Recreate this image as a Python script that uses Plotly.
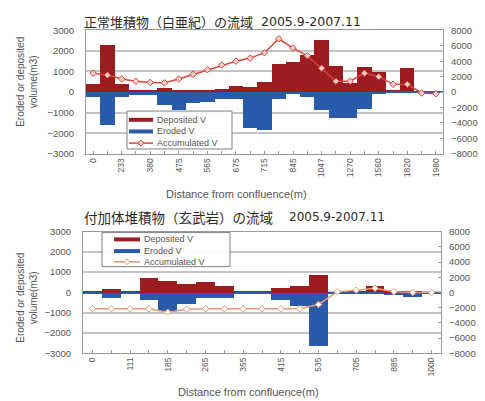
import plotly.graph_objects as go

# ---------------- data ----------------
top_title = "正常堆積物（白亜紀）の流域"
bot_title = "付加体堆積物（玄武岩）の流域"
period = "2005.9-2007.11"
series_names = ["Deposited V", "Eroded V", "Accumulated V"]

top_sections = list(range(25))
top_tick_pos = [0, 2, 4, 6, 8, 10, 12, 14, 16, 18, 20, 22, 24]
top_tick_labels = ["0", "233", "380", "475", "565", "675", "715", "845",
                   "1047", "1270", "1560", "1820", "1980"]
top_deposited = [375, 2250, 375, 50, 50, 190, 60, 50, 50, 140, 300, 250, 460,
                 1330, 1460, 1800, 2500, 1240, 420, 1190, 950, 100, 1150, 30, 20]
top_eroded = [-250, -1600, -250, -150, -150, -640, -900, -560, -480, -330, -330,
              -1780, -1850, -370, -100, -250, -900, -1290, -1290, -830, -100,
              -80, -80, -30, -20]
top_accum = [2450, 2200, 1700, 1400, 1250, 1200, 1700, 2300, 2900, 3500, 4000,
             4400, 5100, 6900, 5700, 4700, 3100, 1400, 1400, 2450, 2000, 1000,
             1000, -120, -220]

bot_sections = list(range(19))
bot_tick_pos = [0, 2, 4, 6, 8, 10, 12, 14, 16, 18]
bot_tick_labels = ["0", "111", "185", "265", "355", "415", "535", "705",
                   "885", "1000"]
bot_deposited = [60, 200, 50, 730, 600, 440, 520, 330, 50, 60, 240, 330, 870,
                 30, 40, 330, 80, 80, 30]
bot_eroded = [-60, -240, -50, -350, -900, -550, -270, -270, -60, -60, -350,
              -670, -2650, -30, -40, -50, -110, -190, -30]
bot_accum = [-2150, -2150, -2150, -2150, -2600, -2200, -2150, -2150, -2150,
             -2150, -2150, -2150, -1580, 100, 300, 550, 100, 0, 0]

left_ticks = [-3000, -2000, -1000, 0, 1000, 2000, 3000]
right_ticks = [-8000, -6000, -4000, -2000, 0, 2000, 4000, 6000, 8000]

# ---------------- style ----------------
RED = "#9c1c20"
BLUE = "#2a5bab"
ACC_TOP = "#d8453c"
ACC_BOT = "#e69a72"
GRID = "#c4c4c4"
FRAME = "#9a9a9a"
TXT = "#555555"
FONT = "Liberation Sans, Arial, sans-serif"
JFONT = "Noto Sans CJK JP"
W, H = 485, 401


def px_x(v):
    return v / W


def px_y(v):
    return 1 - v / H


fig = go.Figure()

# top chart
fig.add_trace(go.Bar(x=top_sections, y=top_deposited, marker_color=RED,
                     marker_line_width=0, xaxis="x", yaxis="y",
                     name=series_names[0]))
fig.add_trace(go.Bar(x=top_sections, y=top_eroded, marker_color=BLUE,
                     marker_line_width=0, xaxis="x", yaxis="y",
                     name=series_names[1]))
fig.add_trace(go.Scatter(x=top_sections, y=top_accum, mode="lines+markers",
                         line=dict(color=ACC_TOP, width=1.5),
                         marker=dict(symbol="diamond", size=5, color="#f6d0cc",
                                     line=dict(color=ACC_TOP, width=1)),
                         xaxis="x", yaxis="y2", name=series_names[2]))

# bottom chart
fig.add_trace(go.Bar(x=bot_sections, y=bot_deposited, marker_color=RED,
                     marker_line_width=0, xaxis="x2", yaxis="y3",
                     name=series_names[0]))
fig.add_trace(go.Bar(x=bot_sections, y=bot_eroded, marker_color=BLUE,
                     marker_line_width=0, xaxis="x2", yaxis="y3",
                     name=series_names[1]))
fig.add_trace(go.Scatter(x=bot_sections, y=bot_accum, mode="lines+markers",
                         line=dict(color=ACC_BOT, width=1.5),
                         marker=dict(symbol="diamond", size=5, color="#ffffff",
                                     line=dict(color=ACC_BOT, width=1)),
                         xaxis="x2", yaxis="y4", name=series_names[2]))

tickfont = dict(family=FONT, size=9.5, color=TXT)


def xax(domain, anchor, pos, labels, n):
    return dict(domain=domain, anchor=anchor, range=[-0.5, n - 0.5],
                tickmode="array", tickvals=pos, ticktext=labels,
                tickangle=-90, tickfont=dict(family=FONT, size=8.5, color=TXT),
                showgrid=False, zeroline=False, showline=True, linecolor=FRAME,
                linewidth=1, mirror=True, ticks="inside", ticklen=3,
                tickcolor=FRAME, minor=dict(dtick=1, tick0=0, ticks="inside",
                                            ticklen=3, tickcolor=FRAME),
                fixedrange=True)


def yl(domain, anchor):
    return dict(domain=domain, anchor=anchor, range=[-3000, 3000],
                tickmode="array", tickvals=left_ticks,
                tickfont=tickfont, showgrid=True, gridcolor=GRID, gridwidth=2,
                zeroline=False, showline=True, linecolor=FRAME, linewidth=1,
                mirror=True, ticks="", ticklabelstandoff=9)


def yr(overlay, anchor):
    return dict(overlaying=overlay, anchor=anchor, side="right",
                range=[-8000, 8000], tickmode="array", tickvals=right_ticks,
                tickfont=tickfont, showgrid=False, zeroline=False,
                showline=False, ticks="inside", ticklen=3, tickcolor=FRAME,
                ticklabelstandoff=7)


fig.update_layout(
    width=W, height=H, margin=dict(l=0, r=0, t=0, b=0),
    paper_bgcolor="white", plot_bgcolor="white",
    barmode="overlay", bargap=0, showlegend=False,
    font=dict(family=FONT, color=TXT),
    xaxis=xax([px_x(86), px_x(443)], "y", top_tick_pos, top_tick_labels, 25),
    yaxis=yl([px_y(152), px_y(25)], "x"),
    yaxis2=yr("y", "x"),
    xaxis2=xax([px_x(83), px_x(441)], "y3", bot_tick_pos, bot_tick_labels, 19),
    yaxis3=yl([px_y(357), px_y(232)], "x2"),
    yaxis4=yr("y3", "x2"),
)

shapes = []
annots = []


def add_legend(box, rows, line_x, text_x, acc_color, acc_fill):
    x0, y0, x1, y1 = box
    shapes.append(dict(type="rect", xref="paper", yref="paper",
                       x0=px_x(x0), x1=px_x(x1), y0=px_y(y1), y1=px_y(y0),
                       fillcolor="rgba(255,255,255,0.92)",
                       line=dict(color="#808080", width=1), layer="above"))
    cols = [RED, BLUE, acc_color]
    widths = [4, 4, 1.5]
    for i, (name, ry) in enumerate(zip(series_names, rows)):
        shapes.append(dict(type="line", xref="paper", yref="paper",
                           x0=px_x(line_x[0]), x1=px_x(line_x[1]),
                           y0=px_y(ry), y1=px_y(ry), layer="above",
                           line=dict(color=cols[i], width=widths[i])))
        if i == 2:
            cx = (line_x[0] + line_x[1]) / 2
            d = 3
            path = (f"M {px_x(cx - d)} {px_y(ry)} L {px_x(cx)} {px_y(ry - d)} "
                    f"L {px_x(cx + d)} {px_y(ry)} L {px_x(cx)} {px_y(ry + d)} Z")
            shapes.append(dict(type="path", xref="paper", yref="paper",
                               path=path, fillcolor=acc_fill, layer="above",
                               line=dict(color=acc_color, width=1)))
        annots.append(dict(text=name, x=px_x(text_x), y=px_y(ry),
                           xanchor="left", yanchor="middle",
                           font=dict(family=FONT, size=9, color=TXT)))


add_legend((127, 108, 232, 147), [117, 129, 141], (129, 153), 155,
           ACC_TOP, "#f6d0cc")
add_legend((102, 233, 230, 268), [240, 252, 263], (114, 140), 142,
           ACC_BOT, "#ffffff")

annots += [
    dict(text=top_title, x=px_x(82), y=px_y(16), xanchor="left", yanchor="middle",
         font=dict(family=JFONT, size=13, color="#2a2a2a")),
    dict(text=period, x=px_x(259), y=px_y(16), xanchor="left", yanchor="middle",
         font=dict(family="DejaVu Sans", size=12.5, color="#2a2a2a")),
    dict(text=bot_title, x=px_x(82), y=px_y(217), xanchor="left", yanchor="middle",
         font=dict(family=JFONT, size=13.5, color="#2a2a2a")),
    dict(text=period, x=px_x(287), y=px_y(217), xanchor="left", yanchor="middle",
         font=dict(family="DejaVu Sans", size=12, color="#2a2a2a")),
    dict(text="Eroded or deposited<br>volume(m3)", x=px_x(27), y=px_y(78),
         textangle=-90, xanchor="center", yanchor="middle",
         font=dict(family=FONT, size=10, color=TXT)),
    dict(text="Eroded or deposited<br>volume(m3)", x=px_x(27), y=px_y(300),
         textangle=-90, xanchor="center", yanchor="middle",
         font=dict(family=FONT, size=10, color=TXT)),
    dict(text="Distance from confluence(m)", x=px_x(236), y=px_y(193),
         xanchor="center", yanchor="middle",
         font=dict(family=FONT, size=11, color=TXT)),
    dict(text="Distance from confluence(m)", x=px_x(249), y=px_y(397),
         xanchor="center", yanchor="middle",
         font=dict(family=FONT, size=11, color=TXT)),
]
for a in annots:
    a.update(xref="paper", yref="paper", showarrow=False)
fig.update_layout(annotations=annots, shapes=shapes)

fig.write_html("out.html")
